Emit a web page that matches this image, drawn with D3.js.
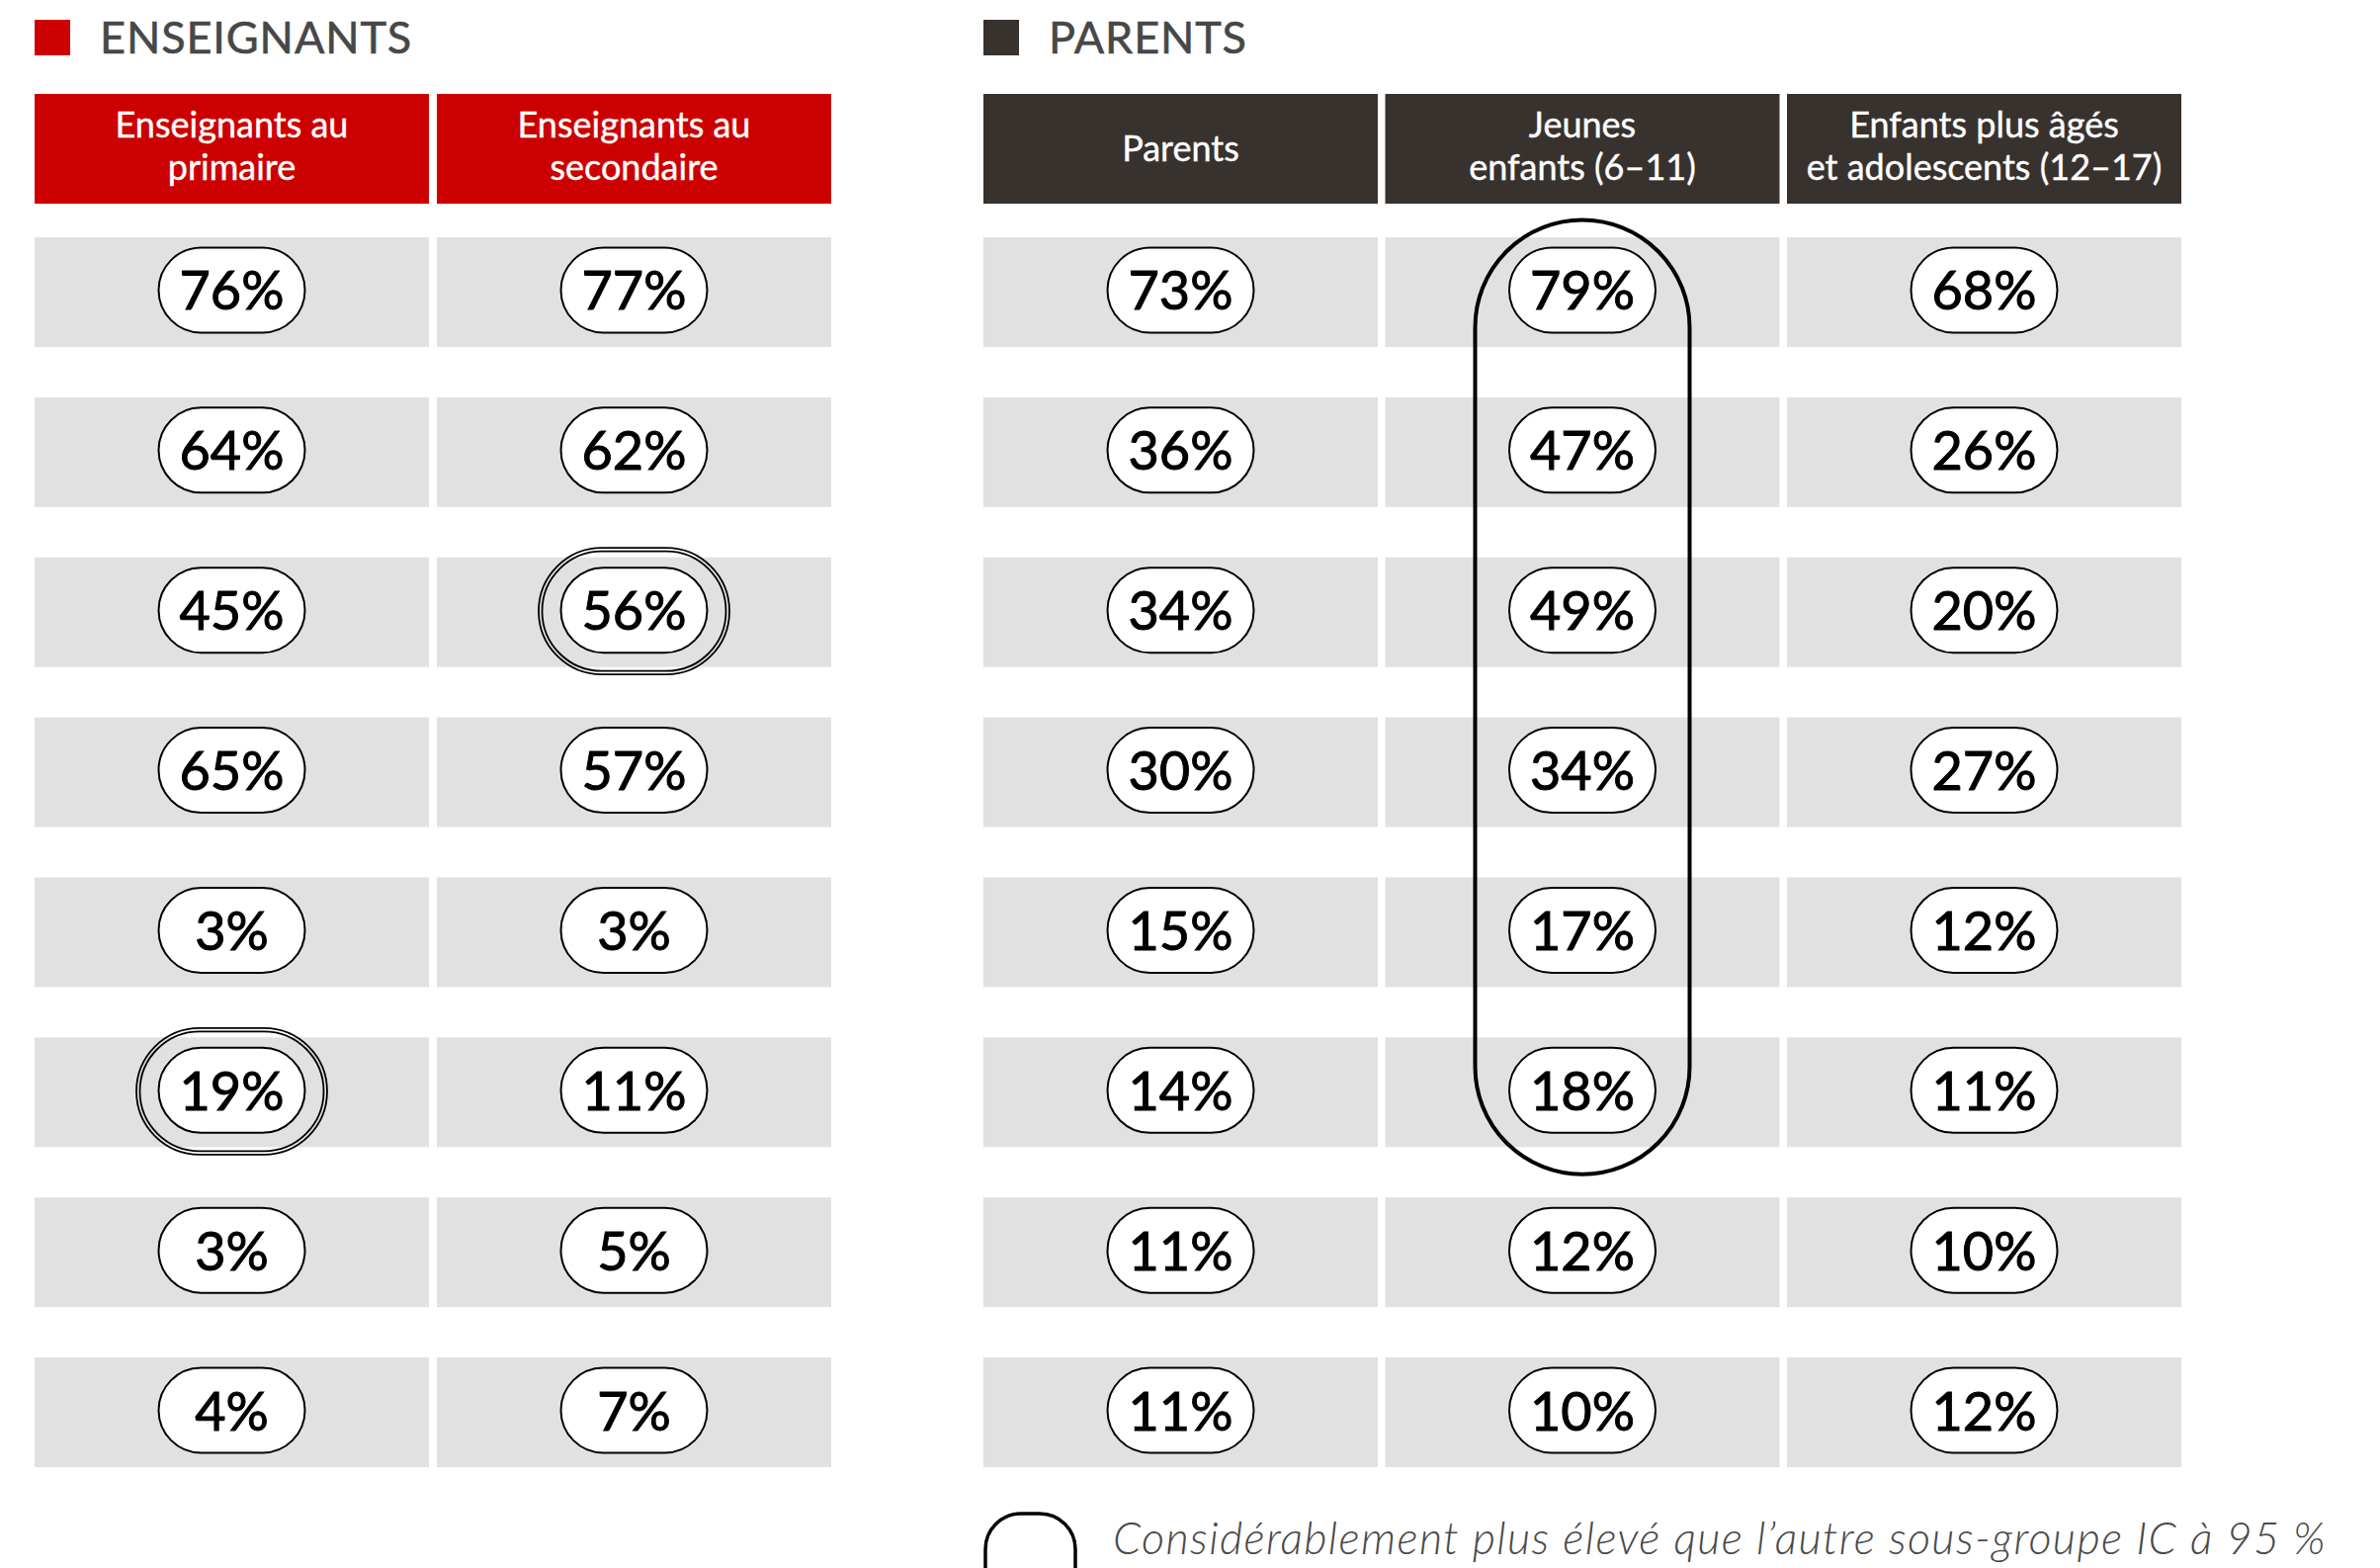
<!DOCTYPE html>
<html>
<head>
<meta charset="utf-8">
<script src="https://cdn.jsdelivr.net/npm/d3@7"></script>
<style>
  html, body { margin: 0; padding: 0; background: #fff; }
  svg { display: block; }
</style>
</head>
<body>
<svg id="chart" width="2408" height="1586"></svg>
<script>
// ---------- DATA ----------
const teacherGroupTitle = "ENSEIGNANTS";
const parentGroupTitle = "PARENTS";
const teacherColumns = [["Enseignants au", "primaire"], ["Enseignants au", "secondaire"]];
const parentColumns = [["Parents"], ["Jeunes", "enfants (6–11)"], ["Enfants plus âgés", "et adolescents (12–17)"]];
const rowIndex = [0, 1, 2, 3, 4, 5, 6, 7];

const teachersPrimary   = [76, 64, 45, 65, 3, 19, 3, 4];
const teachersSecondary = [77, 62, 56, 57, 3, 11, 5, 7];
const parentsAll        = [73, 36, 34, 30, 15, 14, 11, 11];
const youngChildren     = [79, 47, 49, 34, 17, 18, 12, 10];
const olderChildren     = [68, 26, 20, 27, 12, 11, 10, 12];

// significance highlights: [columnIndex, rowIndex]
const teacherHighlights = [[1, 2], [0, 5]];
// group highlight over a column, rows from..to
const parentGroupHighlight = { col: 1, from: 0, to: 5 };

const legendText = "Considérablement plus élevé que l’autre sous-groupe IC à 95 %";

// ---------- LAYOUT ----------
const svg = d3.select("#chart");
const FONT = "Lato, 'Noto Sans', sans-serif";
const RED = "#cc0000", DARK = "#38322f", CELL = "#e1e1e1", TITLE = "#474747";

const xT = d3.scaleBand().domain([0, 1]).range([35, 841]).paddingInner(8 / 407);
const xP = d3.scaleBand().domain([0, 1, 2]).range([995, 2207]).paddingInner(7.5 / 406.5);
const y = d3.scaleBand().domain(rowIndex).range([240, 1484]).paddingInner(50.86 / 161.86);
const headerY = 95, headerH = 111;

const pillW = 148, pillH = 86;

function drawGroup(title, titleColor, x, columns, data, headColor, squareX) {
  const g = svg.append("g");
  g.append("rect").attr("x", squareX).attr("y", 20).attr("width", 36).attr("height", 36).attr("fill", headColor);
  g.append("text").attr("x", squareX + 66).attr("y", 54)
    .attr("font-family", FONT).attr("font-size", 45).attr("letter-spacing", 0.9)
    .attr("fill", titleColor).attr("stroke", titleColor).attr("stroke-width", 0.6)
    .text(title);

  columns.forEach((lines, ci) => {
    g.append("rect").attr("x", x(ci)).attr("y", headerY).attr("width", x.bandwidth()).attr("height", headerH).attr("fill", headColor);
    const cx = x(ci) + x.bandwidth() / 2;
    const cy = headerY + headerH / 2;
    const baselines = lines.length === 1 ? [cy + 12] : [cy - 11.5, cy + 31.5];
    lines.forEach((ln, li) => {
      g.append("text").attr("x", cx).attr("y", baselines[li]).attr("text-anchor", "middle")
        .attr("font-family", FONT).attr("font-size", 36).attr("fill", "#fff")
        .attr("stroke", "#fff").attr("stroke-width", 0.4).text(ln);
    });
  });

  data.forEach((series, ci) => {
    const cg = g.append("g");
    cg.selectAll("rect.cell").data(series).join("rect").attr("class", "cell")
      .attr("x", x(ci)).attr("y", (d, i) => y(i)).attr("width", x.bandwidth()).attr("height", y.bandwidth())
      .attr("fill", CELL);
  });
  return g;
}

drawGroup(teacherGroupTitle, TITLE, xT, teacherColumns, [teachersPrimary, teachersSecondary], RED, 35);
drawGroup(parentGroupTitle, TITLE, xP, parentColumns, [parentsAll, youngChildren, olderChildren], DARK, 995);

// highlight rings for teachers (double line)
teacherHighlights.forEach(([ci, ri]) => {
  const cx = xT(ci) + xT.bandwidth() / 2, cy = y(ri) + y.bandwidth() / 2 - 1;
  [[193, 128, 1.8], [186, 121, 1.8]].forEach(([w, h, sw]) => {
    svg.append("rect").attr("x", cx - w / 2).attr("y", cy - h / 2).attr("width", w).attr("height", h)
      .attr("rx", h / 2).attr("ry", h / 2).attr("fill", "none").attr("stroke", "#000").attr("stroke-width", sw);
  });
});

// parent group highlight
{
  const ci = parentGroupHighlight.col;
  const cx = xP(ci) + xP.bandwidth() / 2;
  const top = y(parentGroupHighlight.from) + y.bandwidth() / 2 - 73;
  const bot = y(parentGroupHighlight.to) + y.bandwidth() / 2 + 83;
  const w = 217;
  svg.append("rect").attr("x", cx - w / 2).attr("y", top).attr("width", w).attr("height", bot - top)
    .attr("rx", w / 2).attr("ry", w / 2).attr("fill", "none").attr("stroke", "#000").attr("stroke-width", 4);
}

// pills + values
function drawPills(x, data) {
  data.forEach((series, ci) => {
    const cx = x(ci) + x.bandwidth() / 2;
    const pg = svg.append("g");
    const cells = pg.selectAll("g").data(series).join("g")
      .attr("transform", (d, i) => `translate(${cx},${y(i) + y.bandwidth() / 2 - 2})`);
    cells.append("rect").attr("x", -pillW / 2).attr("y", -pillH / 2).attr("width", pillW).attr("height", pillH)
      .attr("rx", pillH / 2).attr("ry", pillH / 2).attr("fill", "#fff").attr("stroke", "#000").attr("stroke-width", 2);
    cells.append("text").attr("text-anchor", "middle").attr("y", 20)
      .attr("font-family", FONT).attr("font-size", 54).attr("fill", "#000")
      .attr("stroke", "#000").attr("stroke-width", 1)
      .text(d => d + "%");
  });
}
drawPills(xT, [teachersPrimary, teachersSecondary]);
drawPills(xP, [parentsAll, youngChildren, olderChildren]);

// legend
svg.append("rect").attr("x", 997).attr("y", 1531).attr("width", 91).attr("height", 100)
  .attr("rx", 36).attr("ry", 36).attr("fill", "none").attr("stroke", "#000").attr("stroke-width", 3.5);
svg.append("text").attr("x", 1126).attr("y", 1572)
  .attr("font-family", FONT).attr("font-style", "italic").attr("font-weight", 300)
  .attr("font-size", 45).attr("letter-spacing", 1.35).attr("fill", "#4a4a4a").text(legendText);
</script>
</body>
</html>
